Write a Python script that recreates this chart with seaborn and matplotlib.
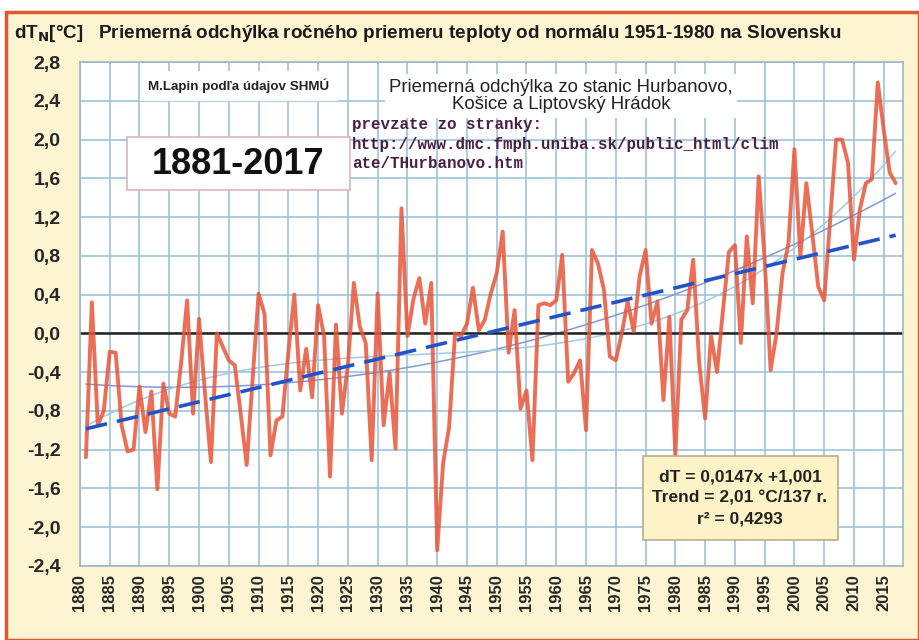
import numpy as np
import pandas as pd
import matplotlib
matplotlib.use('Agg')
import matplotlib.pyplot as plt
import seaborn as sns
from matplotlib.patches import Rectangle

# annual deviation from the 1951-1980 normal
years = list(range(1881, 2018))
dT = [
    -1.28, 0.32, -0.95, -0.80, -0.19, -0.20, -0.95, -1.22, -1.20, -0.55,   # 1881-1890
    -1.02, -0.60, -1.61, -0.52, -0.83, -0.86, -0.30, 0.34, -0.83, 0.15,    # 1891-1900
    -0.62, -1.33, 0.00, -0.14, -0.28, -0.33, -0.83, -1.36, -0.48, 0.41,    # 1901-1910
    0.20, -1.26, -0.90, -0.86, -0.20, 0.40, -0.59, -0.16, -0.66, 0.29,     # 1911-1920
    -0.03, -1.48, 0.09, -0.83, -0.33, 0.52, 0.07, -0.10, -1.31, 0.41,      # 1921-1930
    -0.95, -0.41, -1.19, 1.29, -0.03, 0.35, 0.57, 0.10, 0.52, -2.24,       # 1931-1940
    -1.34, -0.97, 0.00, -0.03, 0.10, 0.47, 0.03, 0.14, 0.41, 0.62,         # 1941-1950
    1.05, -0.20, 0.24, -0.78, -0.59, -1.31, 0.29, 0.31, 0.29, 0.34,        # 1951-1960
    0.81, -0.50, -0.41, -0.28, -1.00, 0.86, 0.72, 0.45, -0.24, -0.28,      # 1961-1970
    0.00, 0.33, 0.02, 0.59, 0.86, 0.10, 0.33, -0.69, 0.17, -1.26,          # 1971-1980
    0.14, 0.24, 0.76, -0.30, -0.88, -0.03, -0.40, 0.24, 0.84, 0.91,        # 1981-1990
    -0.10, 1.00, 0.31, 1.62, 0.76, -0.38, 0.00, 0.62, 0.93, 1.90,          # 1991-2000
    0.79, 1.55, 1.03, 0.48, 0.34, 1.17, 2.00, 2.00, 1.76, 0.76,            # 2001-2010
    1.28, 1.55, 1.59, 2.59, 2.10, 1.66, 1.55,                              # 2011-2017
]

# linear trend as printed on the chart (x = year index from 1880)
trend_slope = 0.0147
trend_icept = -1.001

xticks = list(range(1880, 2016, 5))
yticks = [-2.4, -2.0, -1.6, -1.2, -0.8, -0.4, 0.0, 0.4, 0.8, 1.2, 1.6, 2.0, 2.4, 2.8]

df = pd.DataFrame({'year': years, 'dT': dT})
df['trend'] = trend_slope * (df['year'] - 1880) + trend_icept

sns.set_style('white')
plt.rcParams['font.family'] = ['Liberation Sans', 'DejaVu Sans']

fig = plt.figure(figsize=(9.19, 6.4), dpi=100)
fig.patch.set_facecolor('white')


def px(x, y):
    return x / 919, 1 - y / 640


def box(x0, y0, x1, y1, fc, ec, lw=1.2):
    fig.patches.append(Rectangle(px(x0, y1), (x1 - x0) / 919, (y1 - y0) / 640,
                                 transform=fig.transFigure, facecolor=fc, edgecolor=ec,
                                 lw=lw, zorder=5))


# cream page with orange frame
fig.patches.append(Rectangle((0.006, 0.0), 0.994, 0.982, transform=fig.transFigure,
                             facecolor='#fdf5d2', edgecolor='#e2572f', lw=2.5, zorder=-10))

ax = fig.add_axes([0.087, 0.116, 0.896, 0.787])
ax.set_facecolor('white')

sns.lineplot(data=df, x='year', y='dT', color='#e8553a', lw=2.8, alpha=0.85, ax=ax, zorder=3)
sns.regplot(data=df, x='year', y='dT', order=2, scatter=False, ci=None, ax=ax,
            line_kws={'color': '#7f9ad8', 'lw': 1.1, 'zorder': 2})
sns.regplot(data=df, x='year', y='dT', order=3, scatter=False, ci=None, ax=ax,
            line_kws={'color': '#9fcbe3', 'lw': 1.1, 'zorder': 2})
sns.lineplot(data=df, x='year', y='trend', color='#2353c8', lw=2.6, ax=ax, zorder=4,
             dashes=False, linestyle=(0, (6, 2.8)))
ax.axhline(0, color='#222222', lw=1.8, zorder=2.5)

ax.set_xlim(1880, 2018.3)
ax.set_ylim(-2.4, 2.8)
ax.set_xticks(xticks)
ax.set_xticklabels([str(y) for y in xticks], rotation=90, fontsize=12, fontweight='bold')
ax.set_yticks(yticks)
ax.set_yticklabels([f'{v:.1f}'.replace('.', ',') for v in yticks], fontsize=14, fontweight='bold')
ax.tick_params(axis='y', length=0, pad=14)
ax.tick_params(axis='x', length=0, pad=6)
ax.grid(True, color='#9dc4d8', lw=1.2, zorder=0)
ax.set_axisbelow(True)
ax.set_xlabel('')
ax.set_ylabel('')
for s in ax.spines.values():
    s.set_color('#9fb8c0')
    s.set_linewidth(1.2)

fig.text(*px(14, 33), r'dT$_{\mathbf{N}}$[°C]   Priemerná odchýlka ročného priemeru teploty od normálu 1951-1980 na Slovensku',
         fontsize=13.6, fontweight='bold', va='center', ha='left', color='#1a1a1a')

fig.text(*px(239, 86), 'M.Lapin podľa údajov SHMÚ', fontsize=9.6, fontweight='bold',
         ha='center', va='center', color='#222222',
         bbox=dict(boxstyle='square,pad=0.6', facecolor='white', edgecolor='none'))

fig.text(*px(561, 96), 'Priemerná odchýlka zo stanic Hurbanovo,\nKošice a Liptovský Hrádok',
         fontsize=13.4, ha='center', va='center', color='#222222', linespacing=1.05,
         bbox=dict(boxstyle='square,pad=0.25', facecolor='white', edgecolor='none'))

fig.text(*px(352, 144), 'prevzate zo stranky:\nhttp://www.dmc.fmph.uniba.sk/public_html/clim\nate/THurbanovo.htm',
         fontsize=11.4, fontweight='bold', family=['Liberation Mono', 'DejaVu Sans Mono'],
         ha='left', va='center', color='#4a1f45', linespacing=1.38)

box(127, 137, 350, 190, 'white', '#d9b8b8')
fig.text(*px(238, 165), '1881-2017', fontsize=26, fontweight='bold', ha='center', va='center',
         color='#111111', zorder=6)

box(643, 456, 838, 540, '#fdf3c6', '#b9ad8a')
fig.text(*px(740, 498), 'dT = 0,0147x +1,001\nTrend = 2,01 °C/137 r.\nr² = 0,4293',
         fontsize=12.5, fontweight='bold', ha='center', va='center', color='#222222',
         linespacing=1.5, zorder=6)

fig.savefig('out.png', dpi=100)
